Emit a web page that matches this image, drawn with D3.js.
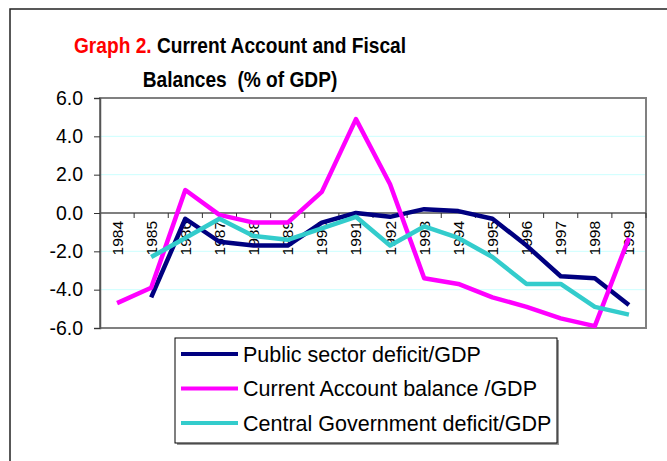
<!DOCTYPE html>
<html>
<head>
<meta charset="utf-8">
<script src="https://cdn.jsdelivr.net/npm/d3@7"></script>
<style>
  body { margin: 0; background: #fff; }
  svg { display: block; font-family: "Liberation Sans", Arial, sans-serif; }
</style>
</head>
<body>
<script>
const years = ['1984', '1985', '1986', '1987', '1988', '1989', '1990', '1991',
    '1992', '1993', '1994', '1995', '1996', '1997', '1998', '1999'];

// null = no value for that year
const publicSector = [null, -4.4, -0.3, -1.5, -1.7, -1.7, -0.5, 0.0,
    -0.2, 0.2, 0.1, -0.3, -1.7, -3.3, -3.4, -4.8];
const currentAccount = [-4.7, -3.9, 1.2, -0.1, -0.5, -0.5, 1.1, 4.9,
    1.5, -3.4, -3.7, -4.4, -4.9, -5.5, -5.9, -1.3];
const centralGov = [null, -2.3, -1.3, -0.3, -1.2, -1.4, -0.8, -0.2,
    -1.7, -0.7, -1.3, -2.3, -3.7, -3.7, -4.9, -5.3];

const yTicks = [6, 4, 2, 0, -2, -4, -6];

const series = [
    { name: 'Public sector deficit/GDP', values: publicSector, color: '#000080' },
    { name: 'Current Account balance /GDP', values: currentAccount, color: '#ff00ff' },
    { name: 'Central Government deficit/GDP', values: centralGov, color: '#33cccc' }
];

const width = 667, height = 461;
const plot = { left: 100, top: 98, right: 646, bottom: 328 };

const fmt = d3.formatLocale({ decimal: '.', thousands: ',', grouping: [3], currency: ['', ''], minus: '-' }).format('.1f');

const svg = d3.select('body').append('svg')
    .attr('width', width)
    .attr('height', height);

// outer chart frame
svg.append('rect')
    .attr('x', 10).attr('y', 9)
    .attr('width', 700).attr('height', 500)
    .attr('fill', '#fff')
    .attr('stroke', '#222')
    .attr('stroke-width', 1.5);

const x = d3.scaleBand()
    .domain(years)
    .range([plot.left, plot.right]);

const y = d3.scaleLinear()
    .domain([-6, 6])
    .range([plot.bottom, plot.top]);

// gridlines
svg.append('g')
    .selectAll('line')
    .data(yTicks.filter(d => d !== 0 && Math.abs(d) !== 6))
    .join('line')
    .attr('x1', plot.left).attr('x2', plot.right)
    .attr('y1', d => y(d)).attr('y2', d => y(d))
    .attr('stroke', '#ccffff')
    .attr('stroke-width', 1);

// plot border
svg.append('rect')
    .attr('x', plot.left).attr('y', plot.top)
    .attr('width', plot.right - plot.left)
    .attr('height', plot.bottom - plot.top)
    .attr('fill', 'none')
    .attr('stroke', '#808080')
    .attr('stroke-width', 2);

// y axis
const yAxis = svg.append('g')
    .attr('transform', `translate(${plot.left},0)`)
    .call(d3.axisLeft(y).tickValues(yTicks).tickSize(6).tickPadding(11)
        .tickFormat(fmt));
yAxis.select('.domain').attr('stroke', '#555').attr('stroke-width', 1.5);
yAxis.selectAll('.tick line').attr('stroke', '#333');
yAxis.selectAll('text')
    .attr('font-size', 19.5)
    .attr('fill', '#000');

// zero axis with ticks at category boundaries
const zero = y(0);
svg.append('line')
    .attr('x1', plot.left).attr('x2', plot.right)
    .attr('y1', zero).attr('y2', zero)
    .attr('stroke', '#555')
    .attr('stroke-width', 1.5);

svg.append('g')
    .selectAll('line')
    .data(years.slice(1).concat(['end']))
    .join('line')
    .attr('x1', d => d === 'end' ? plot.right : x(d))
    .attr('x2', d => d === 'end' ? plot.right : x(d))
    .attr('y1', zero).attr('y2', zero + 5)
    .attr('stroke', '#333')
    .attr('stroke-width', 1);

svg.append('g')
    .selectAll('text')
    .data(years)
    .join('text')
    .attr('transform', d => `translate(${x(d) + x.bandwidth() / 2 + 5.5},${zero + 8}) rotate(-90)`)
    .attr('text-anchor', 'end')
    .attr('font-size', 15.5)
    .text(d => d);

// series lines
const line = d3.line()
    .defined(d => d != null)
    .x((d, i) => x(years[i]) + x.bandwidth() / 2)
    .y(d => y(d));

svg.append('g')
    .selectAll('path')
    .data(series)
    .join('path')
    .attr('d', d => line(d.values))
    .attr('fill', 'none')
    .attr('stroke', d => d.color)
    .attr('stroke-width', 4.5)
    .attr('stroke-linejoin', 'round');

// title, slightly condensed like the original
const t1 = svg.append('text')
    .attr('transform', 'translate(240,53) scale(0.87,1)')
    .attr('font-weight', 'bold')
    .attr('font-size', 22)
    .attr('text-anchor', 'middle');
t1.append('tspan').attr('fill', '#ff0000').text('Graph 2.');
t1.append('tspan').attr('fill', '#000').text(' Current Account and Fiscal');

svg.append('text')
    .attr('transform', 'translate(240,87) scale(0.87,1)')
    .attr('font-weight', 'bold')
    .attr('font-size', 22)
    .attr('text-anchor', 'middle')
    .style('white-space', 'pre')
    .text('Balances  (% of GDP)');

// legend
const legend = svg.append('g');
legend.append('rect')
    .attr('x', 177).attr('y', 340)
    .attr('width', 382).attr('height', 105)
    .attr('fill', '#999');
legend.append('rect')
    .attr('x', 175).attr('y', 338)
    .attr('width', 382).attr('height', 105)
    .attr('fill', '#fff')
    .attr('stroke', '#000')
    .attr('stroke-width', 1);

const items = legend.selectAll('g.item')
    .data(series)
    .join('g')
    .attr('class', 'item')
    .attr('transform', (d, i) => `translate(0,${354 + i * 34.5})`);

items.append('line')
    .attr('x1', 181).attr('x2', 238)
    .attr('stroke', d => d.color)
    .attr('stroke-width', 4);

items.append('text')
    .attr('x', 243)
    .attr('dy', '0.36em')
    .attr('font-size', 21.5)
    .text(d => d.name);
</script>
</body>
</html>
